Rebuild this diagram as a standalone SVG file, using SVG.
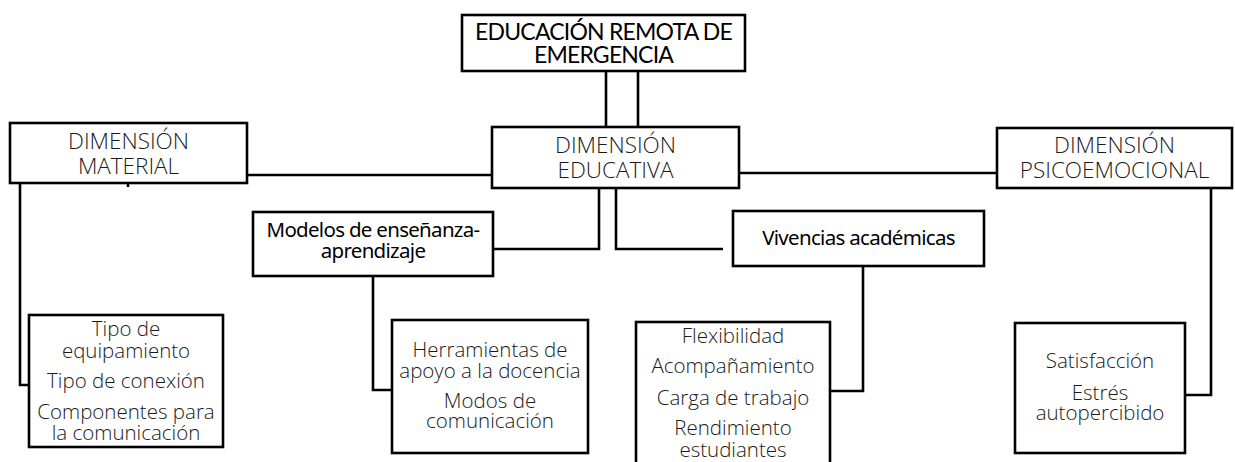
<svg xmlns="http://www.w3.org/2000/svg" width="1235" height="462" viewBox="0 0 1235 462">
<style>
.box{fill:#fff;stroke:#000;stroke-width:2.6}
.ln{fill:none;stroke:#000;stroke-width:2.6}
.t{font-family:"Open Sans","Noto Sans",sans-serif;font-weight:300;font-size:20.5px;fill:#1a1a1a;text-anchor:middle}
.h{font-family:"Open Sans","Noto Sans",sans-serif;font-weight:300;font-size:22.5px;fill:#1a1a1a;text-anchor:middle}
.b{font-family:"Noto Sans","Open Sans",sans-serif;font-weight:400;font-size:20.5px;fill:#000;text-anchor:middle;letter-spacing:-0.7px}
.ti{font-family:Lato,"Noto Sans",sans-serif;font-weight:400;font-size:23px;fill:#000;text-anchor:middle;letter-spacing:-0.8px}
</style>
<rect width="1235" height="462" fill="#fff"/>
<g id="connectors">
<line class="ln" x1="606" y1="71" x2="606" y2="127"/>
<line class="ln" x1="638" y1="71" x2="638" y2="127"/>
<line class="ln" x1="247" y1="175" x2="492" y2="175"/>
<line class="ln" x1="739" y1="173" x2="997" y2="173"/>
<line class="ln" x1="128" y1="183" x2="128" y2="187" stroke-width="2"/>
<polyline class="ln" points="20,183 20,385 29,385"/>
<polyline class="ln" points="599,188 599,249 493,249"/>
<polyline class="ln" points="616,188 616,249 723,249"/>
<polyline class="ln" points="373,276 373,390 392,390"/>
<polyline class="ln" points="863,266 863,391 830,391"/>
<polyline class="ln" points="1211,188 1211,395 1185,395"/>
</g>
<g id="n-ere">
<rect class="box" x="462" y="15" width="283" height="56"/>
<text class="ti" x="603.5" y="40">EDUCACIÓN REMOTA DE</text>
<text class="ti" x="603.5" y="63">EMERGENCIA</text>
</g>
<g id="n-material">
<rect class="box" x="10" y="123" width="237" height="60"/>
<text class="h" x="128.5" y="149">DIMENSIÓN</text>
<text class="h" x="128.5" y="174">MATERIAL</text>
</g>
<g id="n-educativa">
<rect class="box" x="492" y="127" width="247" height="61"/>
<text class="h" x="615.5" y="153">DIMENSIÓN</text>
<text class="h" x="615.5" y="178">EDUCATIVA</text>
</g>
<g id="n-psico">
<rect class="box" x="997" y="128" width="235" height="60"/>
<text class="h" x="1114.5" y="153">DIMENSIÓN</text>
<text class="h" x="1114.5" y="178">PSICOEMOCIONAL</text>
</g>
<g id="n-modelos">
<rect class="box" x="253" y="212" width="240" height="64"/>
<text class="b" x="373" y="237">Modelos de enseñanza-</text>
<text class="b" x="373" y="258">aprendizaje</text>
</g>
<g id="n-vivencias">
<rect class="box" x="733" y="211" width="251" height="55"/>
<text class="b" x="858.5" y="245">Vivencias académicas</text>
</g>
<g id="n-material-items">
<rect class="box" x="29" y="315" width="194" height="132"/>
<text class="t" x="126" y="336">Tipo de</text>
<text class="t" x="126" y="358">equipamiento</text>
<text class="t" x="126" y="388">Tipo de conexión</text>
<text class="t" x="126" y="419">Componentes para</text>
<text class="t" x="126" y="440">la comunicación</text>
</g>
<g id="n-modelos-items">
<rect class="box" x="392" y="320" width="196" height="133"/>
<text class="t" x="490" y="357">Herramientas de</text>
<text class="t" x="490" y="378">apoyo a la docencia</text>
<text class="t" x="490" y="408">Modos de</text>
<text class="t" x="490" y="428">comunicación</text>
</g>
<g id="n-vivencias-items">
<rect class="box" x="636" y="322" width="194" height="150"/>
<text class="t" x="733" y="343">Flexibilidad</text>
<text class="t" x="733" y="373">Acompañamiento</text>
<text class="t" x="733" y="405">Carga de trabajo</text>
<text class="t" x="733" y="435">Rendimiento</text>
<text class="t" x="733" y="457">estudiantes</text>
</g>
<g id="n-psico-items">
<rect class="box" x="1015" y="323" width="170" height="130"/>
<text class="t" x="1100" y="368">Satisfacción</text>
<text class="t" x="1100" y="400">Estrés</text>
<text class="t" x="1100" y="420">autopercibido</text>
</g>
</svg>
